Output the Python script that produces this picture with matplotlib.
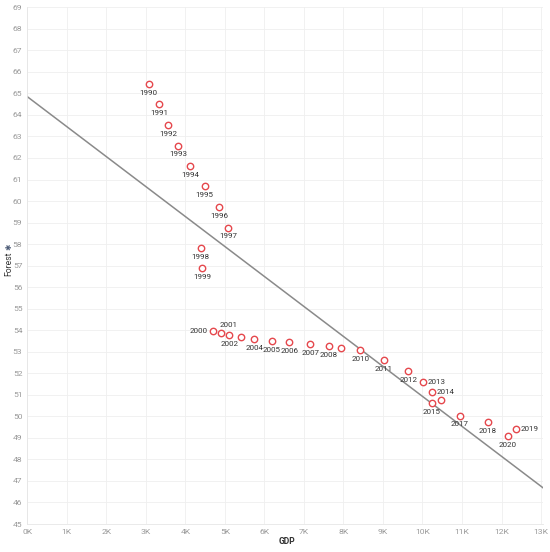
import numpy as np
import matplotlib
matplotlib.use("Agg")
import matplotlib.pyplot as plt

years = list(range(1990, 2021))
gdp = [3070, 3330, 3570, 3820, 4120, 4490, 4850, 5080, 4390, 4420,
       4690, 4890, 5110, 5400, 5740, 6180, 6630, 7160, 7630, 7930,
       8430, 9020, 9640, 10010, 10240, 10230, 10480, 10940, 11660, 12360,
       12160]
forest = [65.45, 64.49, 63.54, 62.58, 61.64, 60.69, 59.73, 58.77, 57.82, 56.88,
          53.95, 53.86, 53.78, 53.68, 53.60, 53.51, 53.44, 53.34, 53.27, 53.17,
          53.09, 52.60, 52.10, 51.60, 51.11, 50.63, 50.75, 50.04, 49.72, 49.39,
          49.08]
# label placement: 'b' below, 'l' left, 'a' above-right, 'r' right, '' none
label_pos = {2000: 'l', 2001: 'a', 2003: '', 2009: '', 2013: 'r', 2014: 'r',
             2016: '', 2019: 'r'}
x_ticks = list(range(0, 14000, 1000))
x_tick_labels = [f"{i}K" for i in range(14)]
y_ticks = list(range(45, 70))

plt.rcParams['font.family'] = ['Liberation Sans Narrow', 'Roboto', 'DejaVu Sans']

fig = plt.figure(figsize=(5.5, 5.52), dpi=100)
ax = fig.add_axes([0.0496, 0.0507, 0.9377, 0.9361])

ax.set_xlim(0, 13050)
ax.set_ylim(45, 69)
ax.set_xticks(x_ticks)
ax.set_xticklabels(x_tick_labels)
ax.set_yticks(y_ticks)
ax.grid(True, color='#efefef', linewidth=0.6)
ax.set_axisbelow(True)
for s in ['top', 'right']:
    ax.spines[s].set_visible(False)
for s in ['left', 'bottom']:
    ax.spines[s].set_color('#e6e6e6')
    ax.spines[s].set_linewidth(0.6)
ax.tick_params(length=0, labelsize=6.1, labelcolor='#9a9a9a', pad=3.5)

# trend line
coef = np.polyfit(gdp, forest, 1)
xl = np.array([0, 13050])
ax.plot(xl, np.polyval(coef, xl), color='#8a8a8a', linewidth=1.1, zorder=2)

ax.plot(gdp, forest, linestyle='none', marker='o', markersize=4.6,
        markerfacecolor='white', markeredgecolor='#e5484d', markeredgewidth=1.0,
        zorder=3)

for yr, x, y in zip(years, gdp, forest):
    p = label_pos.get(yr, 'b')
    if p == '':
        continue
    if p == 'b':
        kw = dict(xytext=(0, -6.4), ha='center', va='center')
    elif p == 'l':
        kw = dict(xytext=(-3.6, 0), ha='right', va='center')
    elif p == 'r':
        kw = dict(xytext=(3.6, 0), ha='left', va='center')
    else:
        kw = dict(xytext=(5.8, 5.6), ha='center', va='center')
    ax.annotate(str(yr), (x, y), textcoords='offset points', fontsize=5.8,
                color='#333333', **kw)

fig.text(0.522, 0.011, 'GDP', fontsize=6.2, color='#333333', fontweight='bold',
         ha='center', va='bottom')
fig.text(0.016, 0.522, 'Forest', fontsize=6.2, color='#333333', rotation=90,
         ha='center', va='center')
fig.text(0.016, 0.553, '\u2731', fontsize=5.5, color='#4e5d78', rotation=90,
         ha='center', va='center', family=['DejaVu Sans'])

fig.savefig('out.png', dpi=100)
